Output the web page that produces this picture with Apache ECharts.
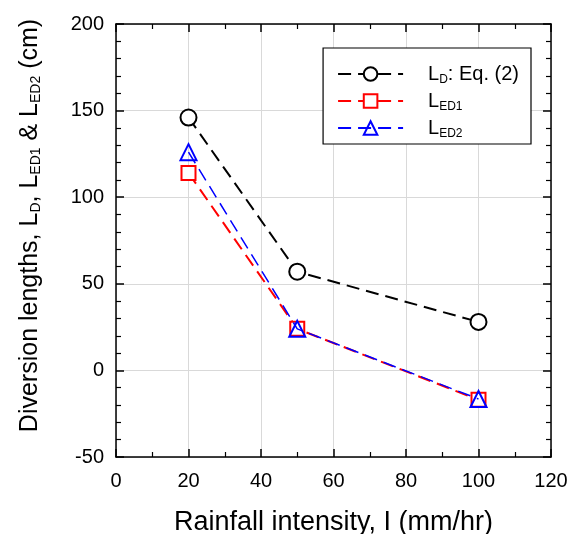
<!DOCTYPE html>
<html><head><meta charset="utf-8">
<script src="https://cdn.jsdelivr.net/npm/echarts@6/dist/echarts.min.js"></script>
<style>html,body{margin:0;padding:0;background:#fff}#c{width:568px;height:534px}</style>
</head><body><div id="c"></div>
<script>
const rainfall = [20, 50, 100];
const LD = [146, 57, 28];
const LED1 = [114, 24, -17];
const LED2 = [126, 24, -16.5];
const xTicks = [0, 20, 40, 60, 80, 100, 120];
const yTicks = [-50, 0, 50, 100, 150, 200];

const FONT = 'Liberation Sans, Arial, sans-serif';
const chart = echarts.init(document.getElementById('c'));
const pair = (xs, ys) => xs.map((x, i) => [x, ys[i]]);

const tickSt = () => ({show: true, inside: true, length: 8, lineStyle: {color: '#000', width: 1.5}});
const lineSt = () => ({show: true, onZero: false, lineStyle: {color: '#000', width: 1.5}});
const xMinor = () => ({show: true, splitNumber: 2, length: 5, lineStyle: {color: '#000', width: 1.2}});
const yMinor = () => ({show: true, splitNumber: 5, length: 5, lineStyle: {color: '#000', width: 1.2}});

const sub = {
  m: {fontSize: 20, fontFamily: FONT, color: '#000'},
  s: {fontSize: 12, fontFamily: FONT, color: '#000', padding: [12, 0, 0, 0]}
};

chart.setOption({
  animation: false,
  grid: {left: 116, right: 17, top: 24, bottom: 77, containLabel: false, outerBoundsMode: 'none'},
  legend: {
    right: 37, top: 48,
    orient: 'vertical',
    itemWidth: 65, itemHeight: 17, itemGap: 5,
    padding: [16, 12, 4, 14],
    borderColor: '#000', borderWidth: 1.2, borderRadius: 0,
    backgroundColor: '#fff',
    textStyle: {rich: sub, padding: [0, 0, 0, 20]},
    formatter: function (n) {
      if (n === 'LD') return '{m|L}{s|D}{m|: Eq. (2)}';
      if (n === 'LED1') return '{m|L}{s|ED1}';
      return '{m|L}{s|ED2}';
    },
    data: ['LD', 'LED1', 'LED2']
  },
  xAxis: [
    {
      type: 'value', min: 0, max: 120, interval: 20,
      axisLine: lineSt(), axisTick: tickSt(), minorTick: xMinor(),
      axisLabel: {show: true, color: '#000', fontSize: 20, fontFamily: FONT, margin: 14,
        formatter: v => xTicks.includes(v) ? String(v) : ''},
      splitLine: {show: true, lineStyle: {color: '#d9d9d9', width: 1}},
      name: 'Rainfall intensity, I (mm/hr)', nameLocation: 'middle', nameGap: 52,
      nameTextStyle: {fontSize: 27, fontFamily: FONT, color: '#000'}
    },
    {
      type: 'value', min: 0, max: 120, interval: 20, position: 'top',
      axisLine: lineSt(), axisTick: tickSt(), minorTick: xMinor(),
      axisLabel: {show: false}, splitLine: {show: false}
    }
  ],
  yAxis: [
    {
      type: 'value', min: -50, max: 200, interval: 50,
      axisLine: lineSt(), axisTick: tickSt(), minorTick: yMinor(),
      axisLabel: {show: true, color: '#000', fontSize: 20, fontFamily: FONT, margin: 12,
        formatter: v => yTicks.includes(v) ? String(v) : ''},
      splitLine: {show: true, lineStyle: {color: '#d9d9d9', width: 1}},
      name: '{m|Diversion lengths, L}{s|D}{m|, L}{s|ED1}{m| & L}{s|ED2}{m| (cm)}',
      nameLocation: 'middle', nameGap: 73,
      nameTextStyle: {padding: [0, 0, 0, 30], rich: {
        m: {fontSize: 25, fontFamily: FONT, color: '#000'},
        s: {fontSize: 14, fontFamily: FONT, color: '#000', padding: [12, 0, 0, 0]}
      }}
    },
    {
      type: 'value', min: -50, max: 200, interval: 50, position: 'right',
      axisLine: lineSt(), axisTick: tickSt(), minorTick: yMinor(),
      axisLabel: {show: false}, splitLine: {show: false}
    }
  ],
  series: [
    {name: 'LD', type: 'line', data: pair(rainfall, LD), symbol: 'circle', symbolSize: 16,
     lineStyle: {color: '#000', width: 2, type: [13, 7]},
     itemStyle: {color: '#fff', borderColor: '#000', borderWidth: 2}, z: 3},
    {name: 'LED1', type: 'line', data: pair(rainfall, LED1), symbol: 'rect', symbolSize: 14,
     lineStyle: {color: '#ff0000', width: 2, type: [13, 7]},
     itemStyle: {color: '#fff', borderColor: '#ff0000', borderWidth: 2}, z: 4},
    {name: 'LED2', type: 'line', data: pair(rainfall, LED2), symbol: 'triangle', symbolSize: 16,
     lineStyle: {color: '#0000ff', width: 1.5, type: [13, 7]},
     itemStyle: {color: 'rgba(255,255,255,0)', borderColor: '#0000ff', borderWidth: 2}, z: 5}
  ]
});
</script></body></html>
